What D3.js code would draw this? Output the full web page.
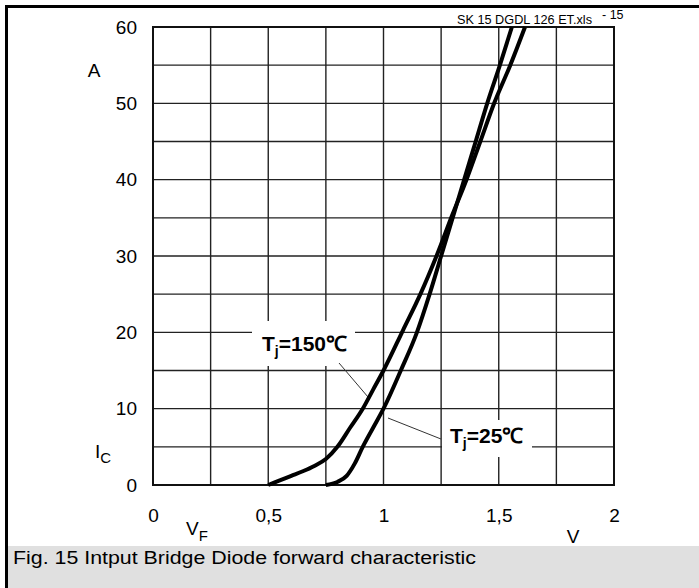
<!DOCTYPE html>
<html>
<head>
<meta charset="utf-8">
<script src="https://cdn.jsdelivr.net/npm/d3@7"></script>
<style>
  html, body { margin: 0; padding: 0; background: #fff; }
  svg { display: block; font-family: "Liberation Sans", Arial, Helvetica, sans-serif; }
</style>
</head>
<body>
<svg id="chart" width="699" height="588"></svg>
<script>
// ---- data ----
const xTicks = [0, 0.5, 1, 1.5, 2];
const xTickLabels = ["0", "0,5", "1", "1,5", "2"];
const yTicks = [0, 10, 20, 30, 40, 50, 60];
const xGrid = [0.25, 0.5, 0.75, 1, 1.25, 1.5, 1.75];
const yGrid = [5, 10, 15, 20, 25, 30, 35, 40, 45, 50, 55];

// Tj = 150 °C  (V, A)
const vf150 = [0.50, 0.55, 0.60, 0.65, 0.70, 0.75, 0.80, 0.855, 0.91, 0.955, 1.00, 1.085, 1.16, 1.23, 1.30, 1.36, 1.42, 1.48, 1.55, 1.614];
const ic150 = [0.0, 0.6, 1.2, 1.8, 2.5, 3.4, 5.0, 7.5, 10.0, 12.5, 15.0, 20.3, 25, 30, 35.5, 40, 45, 50, 55, 60];
// Tj = 25 °C
const vf25 = [0.75, 0.80, 0.84, 0.875, 0.91, 0.955, 1.00, 1.075, 1.145, 1.20, 1.25, 1.31, 1.35, 1.40, 1.45, 1.505, 1.557];
const ic25 = [0.0, 0.4, 1.2, 2.8, 5.0, 7.5, 10.0, 15.0, 20.0, 25, 30, 36, 40, 45, 50, 55, 60];

(function () {
const svg = d3.select("#chart");
const W = 699, H = 588;

// frame
svg.append("rect").attr("x", 8).attr("y", 546).attr("width", W - 8).attr("height", H - 546).attr("fill", "#e0e0e0");
svg.append("rect").attr("x", 5).attr("y", 5).attr("width", W).attr("height", 3).attr("fill", "#000");
svg.append("rect").attr("x", 5).attr("y", 5).attr("width", 3).attr("height", H).attr("fill", "#000");

const pL = 153, pR = 614, pT = 27, pB = 485;
const x = d3.scaleLinear().domain([0, 2]).range([pL, pR]);
const y = d3.scaleLinear().domain([0, 60]).range([pB, pT]);

// grid
const g = svg.append("g");
g.selectAll("line.vg").data(xGrid).join("line").attr("class", "vg")
  .attr("x1", d => x(d)).attr("x2", d => x(d)).attr("y1", pT).attr("y2", pB)
  .attr("stroke", "#222").attr("stroke-width", 1.4);
g.selectAll("line.hg").data(yGrid).join("line").attr("class", "hg")
  .attr("y1", d => y(d)).attr("y2", d => y(d)).attr("x1", pL).attr("x2", pR)
  .attr("stroke", "#222").attr("stroke-width", 1.4);

// label boxes (white, interrupting grid)
svg.append("rect").attr("x", 252).attr("y", 321).attr("width", 103).attr("height", 45).attr("fill", "#fff");
svg.append("rect").attr("x", 442).attr("y", 420).attr("width", 90).attr("height", 37).attr("fill", "#fff");

// plot border
svg.append("rect").attr("x", pL).attr("y", pT).attr("width", pR - pL).attr("height", pB - pT)
  .attr("fill", "none").attr("stroke", "#111").attr("stroke-width", 2);

// leader lines
svg.append("line").attr("x1", 339).attr("y1", 363).attr("x2", 368).attr("y2", 397).attr("stroke", "#333").attr("stroke-width", 1);
svg.append("line").attr("x1", 388).attr("y1", 418).attr("x2", 441).attr("y2", 439).attr("stroke", "#333").attr("stroke-width", 1);

// curves
const line = d3.line().x(d => x(d[0])).y(d => y(d[1])).curve(d3.curveMonotoneX);
svg.append("path").datum(d3.zip(vf150, ic150)).attr("d", line)
  .attr("fill", "none").attr("stroke", "#000").attr("stroke-width", 4).attr("stroke-linejoin", "round");
svg.append("path").datum(d3.zip(vf25, ic25)).attr("d", line)
  .attr("fill", "none").attr("stroke", "#000").attr("stroke-width", 4).attr("stroke-linejoin", "round");

// axes tick labels
const yAxis = d3.axisLeft(y).tickValues(yTicks).tickSize(0).tickPadding(16).tickFormat(d3.format("d"));
const ya = svg.append("g").attr("transform", `translate(${pL},0)`).call(yAxis);
ya.select(".domain").remove();
ya.selectAll("text").attr("font-size", 19).attr("font-family", "Liberation Sans, Arial, sans-serif").attr("fill", "#000");

const xAxis = d3.axisBottom(x).tickValues(xTicks).tickSize(0).tickPadding(24).tickFormat((d, i) => xTickLabels[i]);
const xa = svg.append("g").attr("transform", `translate(0,${pB})`).call(xAxis);
xa.select(".domain").remove();
xa.selectAll("text").attr("font-size", 19).attr("font-family", "Liberation Sans, Arial, sans-serif").attr("fill", "#000");

// unit labels
svg.append("text").attr("x", 94).attr("y", 77).attr("font-size", 19).attr("text-anchor", "middle").text("A");
const ic = svg.append("text").attr("x", 95).attr("y", 458).attr("font-size", 19);
ic.append("tspan").text("I");
ic.append("tspan").attr("font-size", 15).attr("dy", 5).text("C");
svg.append("text").attr("x", 573).attr("y", 543).attr("font-size", 19).attr("text-anchor", "middle").text("V");
const vf = svg.append("text").attr("x", 186).attr("y", 535).attr("font-size", 19);
vf.append("tspan").text("V");
vf.append("tspan").attr("font-size", 15).attr("dy", 6).text("F");

// annotation labels
const t150 = svg.append("text").attr("x", 262).attr("y", 351).attr("font-size", 21).attr("font-weight", "bold");
t150.append("tspan").text("T");
t150.append("tspan").attr("font-size", 14).attr("dy", 5).text("j");
t150.append("tspan").attr("dy", -5).text("=150\u2103");
const t25 = svg.append("text").attr("x", 450).attr("y", 443).attr("font-size", 21).attr("font-weight", "bold");
t25.append("tspan").text("T");
t25.append("tspan").attr("font-size", 14).attr("dy", 5).text("j");
t25.append("tspan").attr("dy", -5).text("=25\u2103");

// file tag
svg.append("text").attr("x", 457).attr("y", 24).attr("font-size", 12.5).attr("textLength", 135).attr("lengthAdjust", "spacingAndGlyphs").text("SK 15 DGDL 126 ET.xls");
svg.append("text").attr("x", 602).attr("y", 19).attr("font-size", 12.5).text("- 15");

// caption
svg.append("text").attr("x", 13).attr("y", 564).attr("font-size", 18).attr("textLength", 463).attr("lengthAdjust", "spacingAndGlyphs").text("Fig. 15 Intput Bridge Diode forward characteristic");
})();
</script>
</body>
</html>
